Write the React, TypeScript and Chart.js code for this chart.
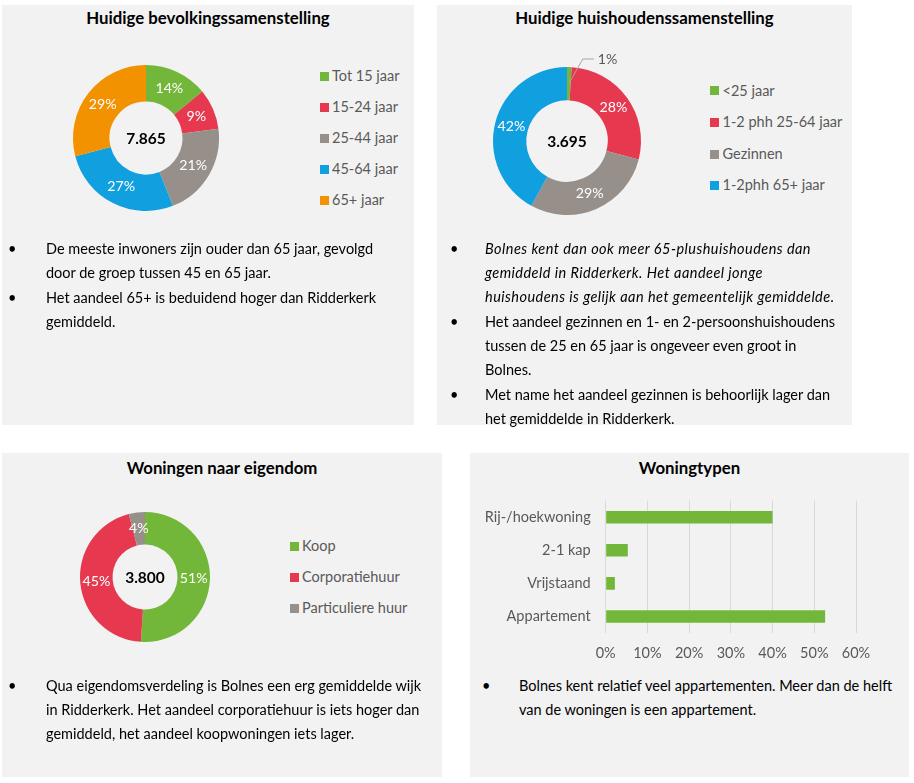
import React, { useEffect, useRef } from "react";
import { Chart, registerables } from "chart.js";

Chart.register(...registerables);

const FONT = "Lato, 'Noto Sans', sans-serif";
const GREEN = "#72b739";
const RED = "#e6384f";
const GREY = "#978f8a";
const BLUE = "#10a0e0";
const ORANGE = "#f39200";
const LABEL_GREY = "#595959";
const PANEL_BG = "#f2f2f2";

// ---- Data: Huidige bevolkingssamenstelling ----
const popLabels = ["Tot 15 jaar", "15-24 jaar", "25-44 jaar", "45-64 jaar", "65+ jaar"];
const popValues = [14, 9, 21, 27, 29];
const popColors = [GREEN, RED, GREY, BLUE, ORANGE];
const popTotal = "7.865";

// ---- Data: Huidige huishoudenssamenstelling ----
const hhLabels = ["<25 jaar", "1-2 phh 25-64 jaar", "Gezinnen", "1-2phh 65+ jaar"];
const hhValues = [1, 28, 29, 42];
const hhColors = [GREEN, RED, GREY, BLUE];
const hhTotal = "3.695";

// ---- Data: Woningen naar eigendom ----
const ownLabels = ["Koop", "Corporatiehuur", "Particuliere huur"];
const ownValues = [51, 45, 4];
const ownColors = [GREEN, RED, GREY];
const ownTotal = "3.800";

// ---- Data: Woningtypen ----
const typeLabels = ["Rij-/hoekwoning", "2-1 kap", "Vrijstaand", "Appartement"];
const typeValues = [40, 5.3, 2.2, 52.6];
const typeTickLabels = ["0%", "10%", "20%", "30%", "40%", "50%", "60%"];

// ---- Texts ----
const popText = [
  { lines: ["De meeste inwoners zijn ouder dan 65 jaar, gevolgd", "door de groep tussen 45 en 65 jaar."] },
  { lines: ["Het aandeel 65+ is beduidend hoger dan Ridderkerk", "gemiddeld."] },
];
const hhText = [
  {
    italic: true,
    lines: [
      "Bolnes kent dan ook meer 65-plushuishoudens dan",
      "gemiddeld in Ridderkerk. Het aandeel jonge",
      "huishoudens is gelijk aan het gemeentelijk gemiddelde.",
    ],
  },
  {
    lines: [
      "Het aandeel gezinnen en 1- en 2-persoonshuishoudens",
      "tussen de 25 en 65 jaar is ongeveer even groot in",
      "Bolnes.",
    ],
  },
  { lines: ["Met name het aandeel gezinnen is behoorlijk lager dan", "het gemiddelde in Ridderkerk."] },
];
const ownText = [
  {
    lines: [
      "Qua eigendomsverdeling is Bolnes een erg gemiddelde wijk",
      "in Ridderkerk. Het aandeel corporatiehuur is iets hoger dan",
      "gemiddeld, het aandeel koopwoningen iets lager.",
    ],
  },
];
const typeText = [
  { lines: ["Bolnes kent relatief veel appartementen. Meer dan de helft", "van de woningen is een appartement."] },
];

const labelPlugin = {
  id: "sliceLabels",
  afterDatasetsDraw(chart: any, _args: any, opts: any) {
    const ctx = chart.ctx;
    const meta = chart.getDatasetMeta(0);
    const data = chart.data.datasets[0].data;
    const outside: number[] = opts.outside || [];
    ctx.save();
    ctx.font = `14.2px ${FONT}`;
    ctx.textBaseline = "middle";
    meta.data.forEach((arc: any, i: number) => {
      const p = arc.getCenterPoint();
      const text = data[i] + "%";
      if (outside.includes(i)) {
        const top = arc.y - arc.outerRadius;
        const ex = p.x + 14;
        const ey = top - 8;
        ctx.strokeStyle = "#a6a6a6";
        ctx.lineWidth = 1;
        ctx.beginPath();
        ctx.moveTo(p.x, p.y);
        ctx.lineTo(ex, ey);
        ctx.lineTo(ex + 11, ey);
        ctx.stroke();
        ctx.fillStyle = LABEL_GREY;
        ctx.textAlign = "left";
        ctx.fillText(text, ex + 15, ey);
      } else {
        ctx.fillStyle = "#ffffff";
        ctx.textAlign = "center";
        ctx.fillText(text, p.x, p.y);
      }
    });
    ctx.restore();
  },
};

const centerPlugin = {
  id: "centerTotal",
  afterDraw(chart: any, _args: any, opts: any) {
    const { ctx, chartArea } = chart;
    ctx.save();
    ctx.font = `bold 15.5px ${FONT}`;
    ctx.fillStyle = "#000000";
    ctx.textAlign = "center";
    ctx.textBaseline = "middle";
    ctx.fillText(opts.text, (chartArea.left + chartArea.right) / 2, (chartArea.top + chartArea.bottom) / 2 + 1);
    ctx.restore();
  },
};

function Donut(props: {
  values: number[];
  labels: string[];
  colors: string[];
  total: string;
  cx: number;
  cy: number;
  r: number;
  cutout: string;
  outside?: number[];
}) {
  const ref = useRef<HTMLCanvasElement | null>(null);
  const M = 34;
  const size = 2 * props.r + 2 * M;
  useEffect(() => {
    const chart = new Chart(ref.current as HTMLCanvasElement, {
      type: "doughnut",
      data: {
        labels: props.labels,
        datasets: [{ data: props.values, backgroundColor: props.colors, borderWidth: 0 }],
      },
      options: {
        animation: false,
        responsive: false,
        maintainAspectRatio: false,
        events: [],
        cutout: props.cutout,
        layout: { padding: M },
        plugins: {
          legend: { display: false },
          tooltip: { enabled: false },
          sliceLabels: { outside: props.outside || [] },
          centerTotal: { text: props.total },
        } as any,
      },
      plugins: [labelPlugin, centerPlugin],
    });
    return () => chart.destroy();
  }, []);
  return (
    <canvas
      ref={ref}
      width={size}
      height={size}
      style={{ position: "absolute", left: props.cx - props.r - M, top: props.cy - props.r - M, width: size, height: size }}
    />
  );
}

function BarChart(props: { left: number; top: number; width: number; height: number }) {
  const ref = useRef<HTMLCanvasElement | null>(null);
  useEffect(() => {
    const font = { family: FONT, size: 14.5 };
    const chart = new Chart(ref.current as HTMLCanvasElement, {
      type: "bar",
      data: {
        labels: typeLabels,
        datasets: [
          { data: typeValues, backgroundColor: GREEN, barPercentage: 0.38, categoryPercentage: 1 },
        ],
      },
      options: {
        indexAxis: "y",
        animation: false,
        responsive: false,
        maintainAspectRatio: false,
        events: [],
        layout: { padding: { top: 0, right: 53, bottom: 0, left: 0 } },
        scales: {
          x: {
            min: 0,
            max: 60,
            ticks: {
              stepSize: 10,
              color: LABEL_GREY,
              font,
              padding: 12,
              callback: (_v: any, i: number) => typeTickLabels[i],
            },
            grid: { color: "#d9d9d9", drawTicks: false, lineWidth: 1 },
            border: { display: false },
            afterFit: (s: any) => {
              s.height = 37;
            },
          },
          y: {
            ticks: { color: LABEL_GREY, font, padding: 15 },
            grid: { display: false, drawTicks: false },
            border: { display: false },
            afterFit: (s: any) => {
              s.width = 135.7;
            },
          },
        } as any,
        plugins: { legend: { display: false }, tooltip: { enabled: false } },
      },
    });
    return () => chart.destroy();
  }, []);
  return (
    <canvas
      ref={ref}
      width={props.width}
      height={props.height}
      style={{ position: "absolute", left: props.left, top: props.top, width: props.width, height: props.height }}
    />
  );
}

function Panel(props: { x: number; y: number; w: number; h: number }) {
  return (
    <div
      style={{ position: "absolute", left: props.x, top: props.y, width: props.w, height: props.h, background: PANEL_BG }}
    />
  );
}

function Title(props: { cx: number; cy: number; text: string }) {
  return (
    <div
      style={{
        position: "absolute",
        left: props.cx - 200,
        width: 400,
        top: props.cy - 11,
        height: 22,
        lineHeight: "22px",
        textAlign: "center",
        fontWeight: 700,
        fontSize: 16.8,
        color: "#000",
        whiteSpace: "nowrap",
      }}
    >
      {props.text}
    </div>
  );
}

function Legend(props: { labels: string[]; colors: string[]; bx: number; tx: number; ys: number[] }) {
  return (
    <>
      {props.labels.map((l, i) => (
        <div key={i}>
          <div
            style={{
              position: "absolute",
              left: props.bx,
              top: props.ys[i] - 4.5,
              width: 9,
              height: 9,
              background: props.colors[i],
            }}
          />
          <div
            style={{
              position: "absolute",
              left: props.tx,
              top: props.ys[i] - 10,
              height: 20,
              lineHeight: "20px",
              fontSize: 14.5,
              color: LABEL_GREY,
              whiteSpace: "nowrap",
            }}
          >
            {l}
          </div>
        </div>
      ))}
    </>
  );
}

function Bullets(props: { bx: number; tx: number; y: number; paras: { lines: string[]; italic?: boolean }[] }) {
  return (
    <div style={{ position: "absolute", left: props.tx, top: props.y, fontSize: 14.5, lineHeight: "24px", color: "#000" }}>
      {props.paras.map((p, i) => (
        <div
          key={i}
          style={{
            position: "relative",
            marginBottom: 1,
            fontStyle: p.italic ? "italic" : "normal",
            letterSpacing: p.italic ? "0.45px" : "0px",
          }}
        >
          <span style={{ position: "absolute", left: props.bx - props.tx, top: 0, fontStyle: "normal" }}>•</span>
          {p.lines.map((l, j) => (
            <div key={j} style={{ whiteSpace: "nowrap" }}>
              {l}
            </div>
          ))}
        </div>
      ))}
    </div>
  );
}

export default function App() {
  return (
    <div
      style={{
        position: "absolute",
        left: 0,
        top: 0,
        width: 914,
        height: 783,
        background: "#ffffff",
        fontFamily: FONT,
        overflow: "hidden",
      }}
    >
      <Panel x={2} y={5} w={412} h={420} />
      <Panel x={437} y={5} w={415} h={420} />
      <Panel x={2} y={453} w={440} h={324} />
      <Panel x={470} y={453} w={439} h={324} />

      <Title cx={208} cy={18} text="Huidige bevolkingssamenstelling" />
      <Title cx={644.5} cy={18} text="Huidige huishoudenssamenstelling" />
      <Title cx={222} cy={468} text="Woningen naar eigendom" />
      <Title cx={689.5} cy={468} text="Woningtypen" />

      <Donut values={popValues} labels={popLabels} colors={popColors} total={popTotal} cx={146} cy={138} r={73} cutout="50%" />
      <Legend labels={popLabels} colors={popColors} bx={320} tx={332} ys={[76, 107, 138, 169, 200]} />

      <Donut
        values={hhValues}
        labels={hhLabels}
        colors={hhColors}
        total={hhTotal}
        cx={566.5}
        cy={141}
        r={74}
        cutout="55%"
        outside={[0]}
      />
      <Legend labels={hhLabels} colors={hhColors} bx={710} tx={722.5} ys={[90.7, 122, 154, 185]} />

      <Donut values={ownValues} labels={ownLabels} colors={ownColors} total={ownTotal} cx={144.5} cy={577} r={65} cutout="50%" />
      <Legend labels={ownLabels} colors={ownColors} bx={290} tx={302} ys={[546, 577, 608]} />

      <BarChart left={470} top={477} width={439} height={193} />

      <Bullets bx={8} tx={46} y={237} paras={popText} />
      <Bullets bx={450} tx={485} y={237} paras={hhText} />
      <Bullets bx={8} tx={46} y={674} paras={ownText} />
      <Bullets bx={482} tx={519} y={674} paras={typeText} />
    </div>
  );
}
